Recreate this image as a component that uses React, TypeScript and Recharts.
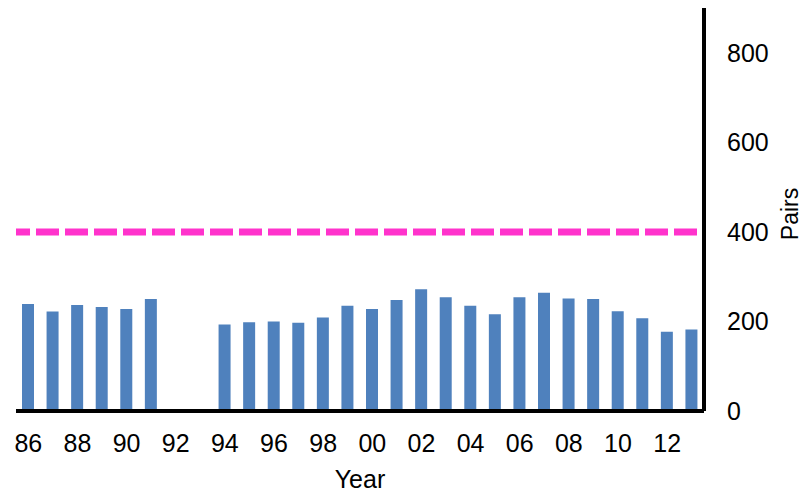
import { BarChart, Bar, XAxis, YAxis, ReferenceLine } from "recharts";

const years = [
  "86", "87", "88", "89", "90", "91", "92", "93", "94", "95", "96", "97", "98", "99",
  "00", "01", "02", "03", "04", "05", "06", "07", "08", "09", "10", "11", "12", "13",
];

const pairs: (number | null)[] = [
  239, 222, 237, 232, 228, 250, null, null, 193, 198, 200, 197, 209, 235,
  228, 248, 272, 254, 235, 216, 254, 264, 251, 250, 223, 207, 177, 182,
];

const yTicks = [0, 200, 400, 600, 800];
const target = 400;

const data = years.map((y, i) => ({ year: y, pairs: pairs[i] }));

const font = "'Liberation Sans', Arial, sans-serif";

export default function App() {
  return (
    <div style={{ position: "absolute", left: 0, top: 0, fontFamily: font }}>
      <BarChart
        width={804}
        height={493}
        data={data}
        margin={{ top: 8, right: 0, bottom: 0, left: 16 }}
        barCategoryGap={0}
      >
        <XAxis
          dataKey="year"
          interval={1}
          height={82}
          tickLine={false}
          tickSize={21}
          tickMargin={2}
          axisLine={{ stroke: "#000", strokeWidth: 4 }}
          tick={{ fill: "#000", fontSize: 25, fontFamily: font }}
          label={{ value: "Year", position: "insideBottom", offset: 5, fill: "#000", fontSize: 25, fontFamily: font }}
        />
        <YAxis
          orientation="right"
          width={100}
          domain={[0, 900]}
          ticks={yTicks}
          tickLine={false}
          tickSize={21}
          tickMargin={2}
          axisLine={{ stroke: "#000", strokeWidth: 4 }}
          tick={{ fill: "#000", fontSize: 25, fontFamily: font }}
          label={{
            content: () => (
              <text
                x={798}
                y={214}
                transform="rotate(-90 798 214)"
                textAnchor="middle"
                fill="#000"
                fontSize={23}
                fontFamily={font}
              >
                Pairs
              </text>
            ),
          }}
        />
        <Bar dataKey="pairs" fill="#4F81BD" barSize={12} isAnimationActive={false} />
        <ReferenceLine
          y={target}
          stroke="#FF33CC"
          strokeWidth={7}
          strokeDasharray="23 6"
          strokeDashoffset={22}
        />
      </BarChart>
    </div>
  );
}
